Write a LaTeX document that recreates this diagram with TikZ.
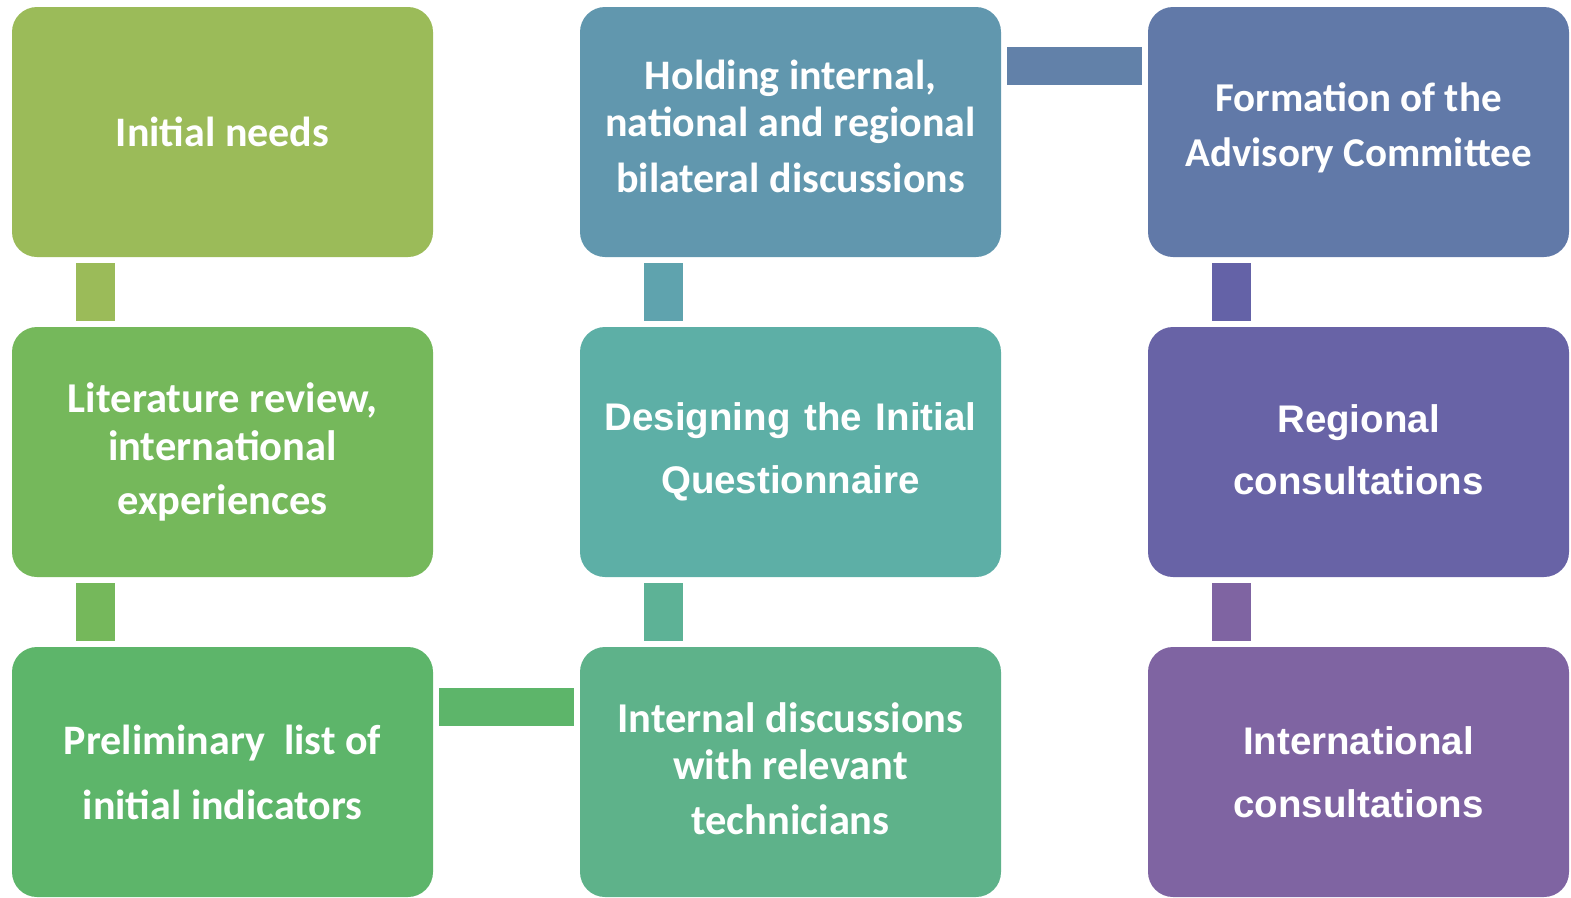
\documentclass[tikz,border=0pt]{standalone}
\usepackage{fontspec}
\usepackage{xcolor}
\newfontfamily\calfont{Carlito}
\newfontfamily\arialfont{Liberation Sans}
\definecolor{needsC}{HTML}{9BBB59}
\definecolor{litC}{HTML}{75B85B}
\definecolor{prelimC}{HTML}{5DB56A}
\definecolor{techC}{HTML}{5EB28A}
\definecolor{questC}{HTML}{5DAFA6}
\definecolor{bilatC}{HTML}{6197AE}
\definecolor{advC}{HTML}{6179A8}
\definecolor{regC}{HTML}{6863A6}
\definecolor{intlC}{HTML}{7F64A2}
\definecolor{barD}{HTML}{5DB296}
\definecolor{barC}{HTML}{5FA3AE}
\definecolor{barH}{HTML}{6281A9}
\definecolor{barE}{HTML}{6462A7}

\begin{document}
\begin{tikzpicture}
[x=1pt, y=-1pt,
 StepBox/.style={rectangle, rounded corners=25pt,
    minimum width=421pt, minimum height=250pt,
    inner sep=0pt, text=white, align=center},
 CalText/.style 2 args={font={\calfont\bfseries\fontsize{#1}{#2}\selectfont}},
 ArialText/.style 2 args={font={\arialfont\bfseries\fontsize{#1}{#2}\selectfont}}]
\useasboundingbox (0,0) rectangle (1571,897);

\node[StepBox, fill=needsC, CalText={42}{50}] (needs) at (222.5,132) {Initial needs};
\node[StepBox, fill=litC, CalText={42.5}{47.5}] (lit) at (222.5,452) {Literature review,\\ international\\[7pt] experiences};
\node[StepBox, fill=prelimC, CalText={42}{65}] (prelim) at (222.5,772) {Preliminary~ list of\\ initial indicators};
\node[StepBox, fill=bilatC, CalText={42}{47}, text depth=12pt] (bilat) at (790.5,132) {Holding internal,\\ national and regional\\[9pt] bilateral discussions};
\node[StepBox, fill=questC, ArialText={38.5}{63}] (quest) at (790.5,452) {Designing\hspace{3pt} the\hspace{3pt} Initial\\ Questionnaire};
\node[StepBox, fill=techC, CalText={42.5}{47}, text depth=6pt] (tech) at (790.5,772) {Internal discussions\\ with relevant\\[8pt] technicians};
\node[StepBox, fill=advC, CalText={41}{55}, text depth=14pt] (adv) at (1358.5,132) {Formation of the\\ Advisory Committee};
\node[StepBox, fill=regC, ArialText={38.5}{62}, text depth=4pt] (reg) at (1358.5,452) {Regional\\ consultations};
\node[StepBox, fill=intlC, ArialText={38.5}{63}] (intl) at (1358.5,772) {International\\ consultations};

% links down the columns
\foreach \a/\b/\c in {needs/lit/needsC, lit/prelim/litC, bilat/quest/barC,
    quest/tech/barD, adv/reg/barE, reg/intl/intlC}
  \fill[\c] ([xshift=64pt,yshift=-6pt]\a.south west) rectangle ([xshift=103pt,yshift=6pt]\b.north west);

% links across
\fill[prelimC] ([xshift=6pt,yshift=-41pt]prelim.north east) rectangle ([xshift=-6pt,yshift=-79pt]tech.north west);
\fill[barH] ([xshift=6pt,yshift=-40pt]bilat.north east) rectangle ([xshift=-6pt,yshift=-78pt]adv.north west);
\end{tikzpicture}
\end{document}
